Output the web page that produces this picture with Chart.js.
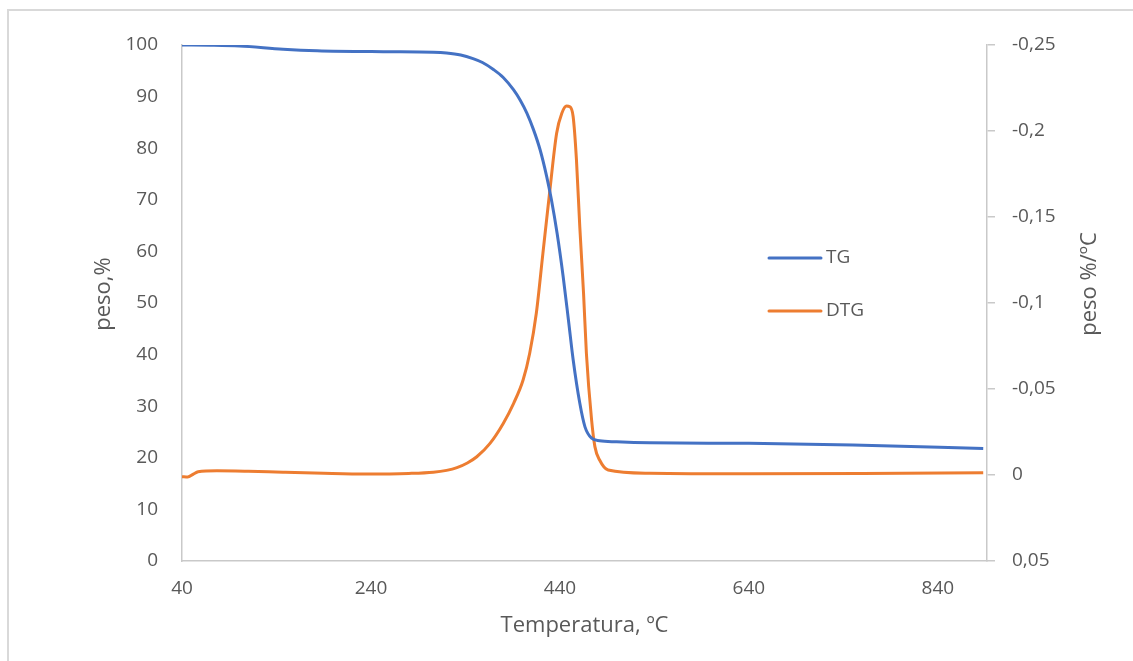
<!DOCTYPE html>
<html>
<head>
<meta charset="utf-8">
<script src="https://cdn.jsdelivr.net/npm/chart.js@4"></script>
<style>
  html, body { margin: 0; padding: 0; background: #fff; overflow: hidden; }
  #frame { position: absolute; left: 7px; top: 9px; width: 1200px; height: 720px; border: 2px solid #d9d9d9; }
  #chart { position: absolute; left: 0; top: 0; }
</style>
</head>
<body>
<div id="frame"></div>
<canvas id="chart" width="1133" height="661"></canvas>
<script>
// ── data ──
const tgTemps = [40, 70, 101, 147, 183, 253, 306, 320, 335, 348, 358, 370, 380, 391, 398, 405, 412, 419, 426, 431, 437, 443.5, 449, 454, 461, 466.5, 473.5, 482, 500, 535, 640, 750, 888];
const tgValues = [100, 99.95, 99.8, 99.2, 98.9, 98.7, 98.6, 98.45, 98.05, 97.35, 96.6, 95.2, 93.7, 91.3, 89.3, 86.8, 83.6, 79.7, 74.5, 70, 63.5, 55, 46.7, 39, 30.6, 26, 23.8, 23.3, 23.1, 22.9, 22.8, 22.5, 21.8];

const dtgTemps = [40, 46, 52, 57, 77, 110, 147, 190, 235, 280, 306, 320, 331, 342, 352, 366, 380, 391, 401, 408, 415, 422, 429, 436.5, 442, 447, 450.5, 454, 457.5, 461, 465, 468, 473.5, 477, 482, 491, 535, 640, 760, 888];
const dtgValues = [0.001, 0.0012, -0.0005, -0.0019, -0.0025, -0.0022, -0.0016, -0.001, -0.0006, -0.0009, -0.0016, -0.0027, -0.0043, -0.007, -0.0106, -0.0184, -0.030, -0.0417, -0.0552, -0.0708, -0.094, -0.129, -0.1638, -0.1987, -0.2103, -0.2145, -0.2141, -0.2083, -0.1831, -0.1444, -0.1056, -0.0708, -0.032, -0.0165, -0.0087, -0.0029, -0.001, -0.0007, -0.0008, -0.0013];

const xTicks = [40, 240, 440, 640, 840];
const seriesNames = ['TG', 'DTG'];
const COLORS = ['#4472c4', '#ed7d31'];
const TEXT = '#595959';
const AXIS = '#c9c9c9';
const FONT = 'Open Sans';

const toPts = (xs, ys) => xs.map((x, i) => ({ x: x, y: ys[i] }));
const comma = v => { const r = Math.round(v * 100) / 100; return (r === 0 ? '0' : String(r)).replace('.', ','); };

// legend + y titles drawn by hand, placed like the Excel original
const extras = {
  id: 'extras',
  afterDraw(chart) {
    const { ctx, chartArea: ca } = chart;
    ctx.save();
    ctx.lineWidth = 3;
    ctx.lineCap = 'round';
    ctx.font = `19px "${FONT}"`;
    ctx.textBaseline = 'middle';
    ctx.fillStyle = TEXT;
    seriesNames.forEach((n, i) => {
      const y = ca.top + 213 + i * 53;
      ctx.strokeStyle = COLORS[i];
      ctx.beginPath(); ctx.moveTo(ca.left + 587, y); ctx.lineTo(ca.left + 639, y); ctx.stroke();
      ctx.fillText(n, ca.left + 644, y);
    });
    ctx.textAlign = 'center';
    ctx.font = `22px "${FONT}"`;
    [['peso,%', 104, 294], ['peso %/ºC', 1090, 284]].forEach(([t, x, y]) => {
      ctx.save();
      ctx.translate(x, y);
      ctx.rotate(-Math.PI / 2);
      ctx.fillText(t, 0, 0);
      ctx.restore();
    });
    ctx.restore();
  }
};

new Chart(document.getElementById('chart'), {
  type: 'line',
  data: {
    datasets: [
      { label: seriesNames[0], data: toPts(tgTemps, tgValues), yAxisID: 'y', borderColor: COLORS[0], borderWidth: 3, pointRadius: 0, cubicInterpolationMode: 'monotone', fill: false },
      { label: seriesNames[1], data: toPts(dtgTemps, dtgValues), yAxisID: 'y2', borderColor: COLORS[1], borderWidth: 3, pointRadius: 0, cubicInterpolationMode: 'monotone', fill: false }
    ]
  },
  options: {
    responsive: false, animation: false,
    layout: { padding: { left: 80, top: 45, right: 0, bottom: 18 } },
    plugins: { legend: { display: false }, tooltip: { enabled: false } },
    scales: {
      x: {
        type: 'linear', min: 40, max: 892,
        afterBuildTicks: s => { s.ticks = xTicks.map(v => ({ value: v })); },
        afterFit: s => { s.height = 82; },
        grid: { display: false, drawTicks: false },
        border: { display: true, color: AXIS, width: 1.5 },
        ticks: { color: TEXT, font: { family: FONT, size: 19 }, padding: 16, maxRotation: 0 },
        title: { display: true, text: 'Temperatura, ºC', color: TEXT, font: { family: FONT, size: 22 }, padding: { top: 0, bottom: 4 } }
      },
      y: {
        position: 'left', min: 0, max: 100,
        afterFit: s => { s.width = 102; },
        grid: { display: false, drawTicks: false },
        border: { display: true, color: AXIS, width: 1.5 },
        ticks: { stepSize: 10, color: TEXT, font: { family: FONT, size: 19 }, padding: 24 }
      },
      y2: {
        position: 'right', min: -0.25, max: 0.05, reverse: true,
        afterFit: s => { s.width = 146; },
        grid: { drawOnChartArea: false, drawTicks: true, tickLength: 8, color: AXIS, lineWidth: 1.5 },
        border: { display: true, color: AXIS, width: 1.5 },
        ticks: { stepSize: 0.05, color: TEXT, font: { family: FONT, size: 19 }, padding: 17, callback: v => comma(v) }
      }
    }
  },
  plugins: [extras]
});
</script>
</body>
</html>
